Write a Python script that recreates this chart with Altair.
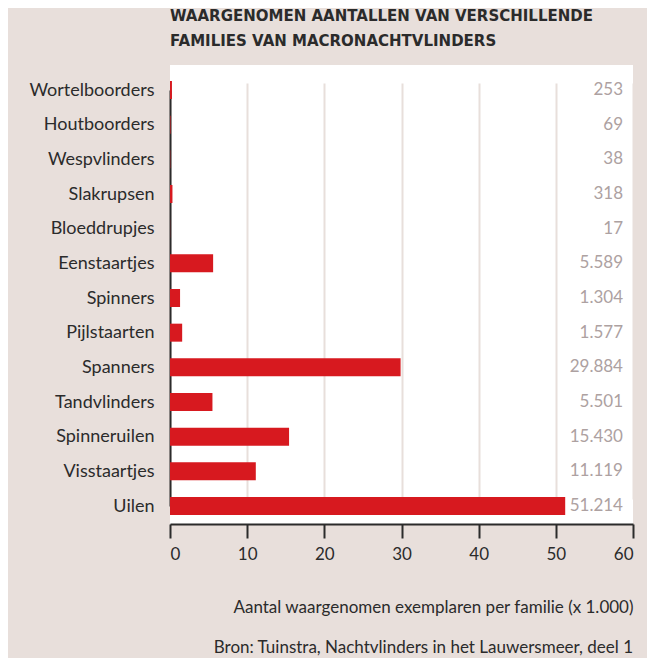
import altair as alt
import pandas as pd

families = ["Wortelboorders", "Houtboorders", "Wespvlinders", "Slakrupsen", "Bloeddrupjes",
            "Eenstaartjes", "Spinners", "Pijlstaarten", "Spanners", "Tandvlinders",
            "Spinneruilen", "Visstaartjes", "Uilen"]
values_k = [0.253, 0.069, 0.038, 0.318, 0.017, 5.589, 1.304, 1.577, 29.884, 5.501,
            15.430, 11.119, 51.214]
value_labels = ["253", "69", "38", "318", "17", "5.589", "1.304", "1.577", "29.884",
                "5.501", "15.430", "11.119", "51.214"]
x_ticks = [0, 10, 20, 30, 40, 50, 60]
title_lines = ["WAARGENOMEN AANTALLEN VAN VERSCHILLENDE", "FAMILIES VAN MACRONACHTVLINDERS"]
source_text = ["Bron: Tuinstra, Nachtvlinders in het Lauwersmeer, deel 1"]

df = pd.DataFrame({"familie": families, "waarde": values_k, "label": value_labels})

BG = "#e8dfdb"
RED = "#d7191f"
FONT = "Lato"
DARK = "#2b2b2b"

y_enc = alt.Y("familie:N", sort=families,
              scale=alt.Scale(type="point", range=[25, 441], padding=0),
              axis=alt.Axis(title=None, ticks=False, tickSize=0, labelPadding=16,
                            labelFontSize=18, labelColor=DARK, labelFont=FONT,
                            domainColor=DARK, domainWidth=2, grid=False))

bars = alt.Chart(df).mark_bar(height=18, color=RED).encode(
    x=alt.X("waarde:Q", scale=alt.Scale(domain=[0, 60], nice=False),
            axis=alt.Axis(values=x_ticks, title="Aantal waargenomen exemplaren per familie (x 1.000)",
                          titleFont=FONT, titleFontSize=17, titleFontWeight="normal",
                          titleColor=DARK, titleAlign="right", titleAnchor="end",
                          titleX=463, titleY=83, titleBaseline="middle",
                          labelFont=FONT, labelFontSize=17, labelColor=DARK,
                          labelPadding=8, tickSize=14, tickWidth=2, tickColor=DARK,
                          domainColor=DARK, domainWidth=2,
                          grid=True, gridColor=BG, gridWidth=2)),
    y=y_enc,
)

labels = alt.Chart(df).mark_text(align="right", baseline="middle", font=FONT,
                                 fontSize=17, color="#ada1a1").encode(
    x=alt.value(453),
    y=alt.Y("familie:N", sort=families),
    text="label:N",
)

title1 = alt.Chart(pd.DataFrame({"t": title_lines[:1]})).mark_text(
    align="left", baseline="alphabetic", font="DejaVu Sans", fontSize=15, fontWeight="bold",
    color=DARK).encode(x=alt.value(0), y=alt.value(-44), text="t:N")
title2 = alt.Chart(pd.DataFrame({"t": title_lines[1:]})).mark_text(
    align="left", baseline="alphabetic", font="DejaVu Sans", fontSize=15, fontWeight="bold",
    color=DARK).encode(x=alt.value(0), y=alt.value(-19), text="t:N")

source = alt.Chart(pd.DataFrame({"t": source_text})).mark_text(
    align="right", baseline="middle", font=FONT, fontSize=17, color=DARK).encode(
    x=alt.value(463), y=alt.value(583), text="t:N")

chart = alt.layer(bars, labels, title1, title2, source).properties(
    width=463, height=459,
    autosize=alt.AutoSizeParams(type="none"),
    padding={"left": 162, "top": 57, "right": 14, "bottom": 134},
    background=BG,
).configure_view(fill="white", stroke=None)

chart.save("out.html", embed_options={"renderer": "svg", "actions": False})
